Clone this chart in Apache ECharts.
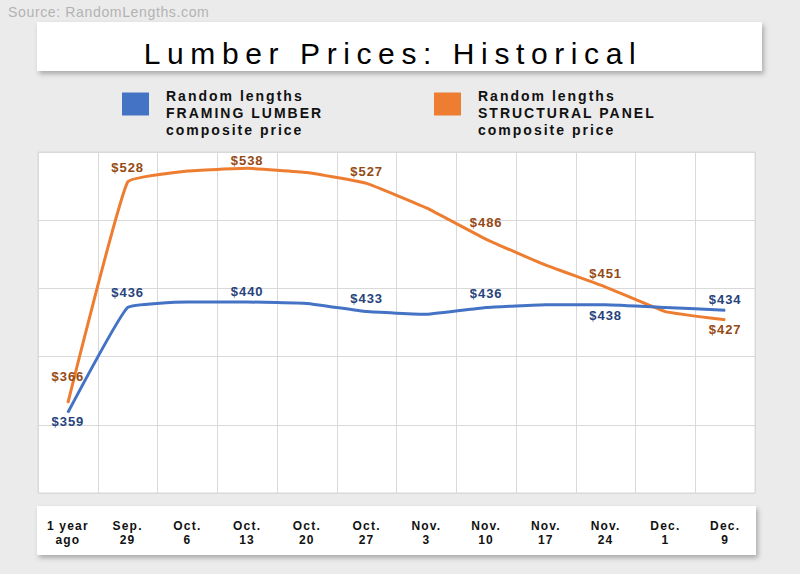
<!DOCTYPE html>
<html>
<head>
<meta charset="utf-8">
<script src="https://cdn.jsdelivr.net/npm/echarts@6/dist/echarts.min.js"></script>
<style>
  html, body { margin: 0; padding: 0; background: #ebebeb; }
  #chart { width: 800px; height: 574px; }
  #chart text { letter-spacing: 1.2px; }
  #chart text[style*="30px"] { letter-spacing: 6.6px; }
  #chart text[style*="14.1px"] { letter-spacing: 0.6px; }
  #chart text[style*=" 14px"], #chart text[style*=":14px"] { letter-spacing: 2px; }
  #chart text[style*=" 13px"], #chart text[style*=":13px"] { letter-spacing: 1px; }
</style>
</head>
<body>
<div id="chart"></div>
<script>
const categories = ['1 year\nago', 'Sep.\n29', 'Oct.\n6', 'Oct.\n13', 'Oct.\n20', 'Oct.\n27', 'Nov.\n3', 'Nov.\n10', 'Nov.\n17', 'Nov.\n24', 'Dec.\n1', 'Dec.\n9'];
const framingValues = [359, 436, 440, 440, 439, 433, 431, 436, 438, 438, 436, 434];
const panelValues   = [366, 528, 536, 538, 535, 527, 509, 486, 467, 451, 433, 427];
// which points carry a value label, and where (t = above, b = below, '' = none)
const framingLabelSide = ['b', 't', '', 't', '', 't', '', 't', '', 'b', '', 't'];
const panelLabelSide   = ['t', 't', '', 't', '', 't', '', 't', '', 't', '', 'b'];
const framingLabelGap  = [2, 8, 0, 4, 0, 6, 0, 7, 0, 4, 0, 4];
const panelLabelGap    = [19, 8, 0, 1, 0, 5, 0, 10, 0, 7, 0, 3];
const yTicks = [300, 350, 400, 450, 500, 550];

const FONT = '"Liberation Sans", Arial, Helvetica, sans-serif';
const framingName = 'Random lengths FRAMING LUMBER composite price';
const panelName = 'Random lengths STRUCTURAL PANEL composite price';

function buildData(values, sides, gaps, color) {
  return values.map((v, i) => ({
    value: v,
    label: sides[i] ? {
      show: true,
      position: sides[i] === 't' ? 'top' : 'bottom',
      distance: gaps[i],
      formatter: '$' + v,
      color: color,
      fontSize: 13,
      fontWeight: 'bold',
      fontFamily: FONT
    } : { show: false }
  }));
}

const chart = echarts.init(document.getElementById('chart'), null, { renderer: 'svg' });
chart.setOption({
  backgroundColor: '#ebebeb',
  animation: false,
  title: {
    text: 'Lumber Prices: Historical',
    left: 393,
    top: 38,
    padding: 0,
    textAlign: 'center',
    textStyle: { fontSize: 30, fontWeight: 'normal', color: '#000', fontFamily: FONT }
  },
  graphic: [
    {
      type: 'text', x: 8, y: 12, z: 5,
      style: { text: 'Source: RandomLengths.com', font: 'normal 14.1px ' + FONT, fill: '#b3b3b3', textVerticalAlign: 'middle' }
    },
    {
      type: 'rect', z: -1,
      shape: { x: 37, y: 22, width: 725, height: 49 },
      style: { fill: '#ffffff', shadowBlur: 5, shadowColor: 'rgba(0,0,0,0.28)', shadowOffsetX: 2, shadowOffsetY: 3 }
    },
    {
      type: 'rect', z: -1,
      shape: { x: 37, y: 506, width: 719, height: 49 },
      style: { fill: '#ffffff', shadowBlur: 5, shadowColor: 'rgba(0,0,0,0.28)', shadowOffsetX: 2, shadowOffsetY: 3 }
    }
  ],
  legend: [
    {
      data: [framingName], left: 122, top: 70, padding: 0, icon: 'rect',
      itemWidth: 27, itemHeight: 23,
      formatter: () => '\nRandom lengths\nFRAMING LUMBER\ncomposite price',
      textStyle: { fontSize: 14, fontWeight: 'bold', color: '#111', lineHeight: 17, fontFamily: FONT, padding: [0, 0, 0, 12] }
    },
    {
      data: [panelName], left: 434, top: 70, padding: 0, icon: 'rect',
      itemWidth: 27, itemHeight: 23,
      formatter: () => '\nRandom lengths\nSTRUCTURAL PANEL\ncomposite price',
      textStyle: { fontSize: 14, fontWeight: 'bold', color: '#111', lineHeight: 17, fontFamily: FONT, padding: [0, 0, 0, 12] }
    }
  ],
  grid: {
    left: 38, right: 45, top: 152, bottom: 81,
    show: true, backgroundColor: '#ffffff', borderColor: '#d9d9d9', borderWidth: 1
  },
  xAxis: {
    type: 'category',
    data: categories,
    boundaryGap: true,
    axisLine: { show: false },
    axisTick: { show: false },
    splitLine: { show: true, interval: 0, lineStyle: { color: '#d9d9d9', width: 1 } },
    axisLabel: { interval: 0, margin: 26, fontSize: 12, fontWeight: 'bold', color: '#111', lineHeight: 14, fontFamily: FONT }
  },
  yAxis: {
    type: 'value',
    min: yTicks[0], max: yTicks[yTicks.length - 1], interval: yTicks[1] - yTicks[0],
    axisLabel: { show: false },
    axisLine: { show: false },
    axisTick: { show: false },
    splitLine: { lineStyle: { color: '#d9d9d9', width: 1 } }
  },
  series: [
    {
      name: framingName, type: 'line', smooth: 0.1, symbol: 'circle', symbolSize: 1, showSymbol: true,
      color: '#4472c4',
      lineStyle: { width: 3, color: '#4472c4' },
      itemStyle: { color: '#4472c4' },
      data: buildData(framingValues, framingLabelSide, framingLabelGap, '#27437c'),
      z: 3
    },
    {
      name: panelName, type: 'line', smooth: 0.1, symbol: 'circle', symbolSize: 1, showSymbol: true,
      color: '#ed7d31',
      lineStyle: { width: 3, color: '#ed7d31' },
      itemStyle: { color: '#ed7d31' },
      data: buildData(panelValues, panelLabelSide, panelLabelGap, '#954a14'),
      z: 2
    }
  ]
});
</script>
</body>
</html>
